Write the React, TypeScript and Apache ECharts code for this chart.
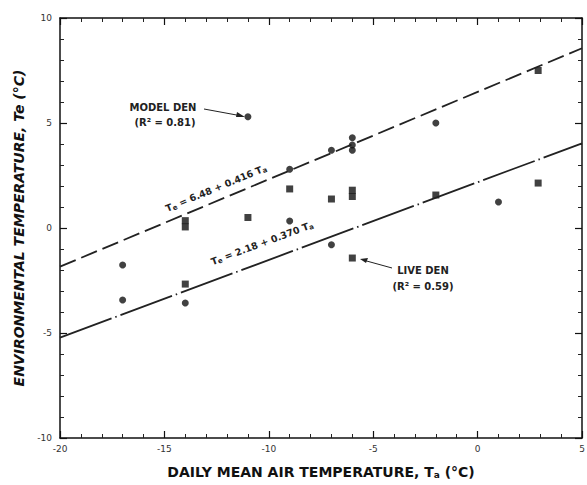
import React, { useEffect, useRef } from "react";
import * as echarts from "echarts";

const xTicks = [-20, -15, -10, -5, 0, 5];
const yTicks = [-10, -5, 0, 5, 10];

// circles
const circlePoints: number[][] = [
  [-11, 5.3], [-17, -1.76], [-17, -3.43], [-14, -3.57], [-9, 2.8], [-9, 0.33],
  [-7, 3.7], [-7, -0.8], [-6, 4.3], [-6, 3.95], [-6, 3.7], [-2, 5.0], [1, 1.24],
];
// squares
const squarePoints: number[][] = [
  [-14, 0.35], [-14, 0.05], [-11, 0.5], [-9, 1.86], [-7, 1.38], [-6, 1.8], [-6, 1.5],
  [-6, -1.43], [-14, -2.67], [-2, 1.57], [2.9, 2.14], [2.9, 7.5],
];
const modelLine: number[][] = [[-20, -1.84], [5, 8.56]];
const liveLine: number[][] = [[-20, -5.22], [5, 4.03]];

const FONT = "DejaVu Sans";

export default function App() {
  const ref = useRef<HTMLDivElement>(null);
  useEffect(() => {
    if (!ref.current) return;
    const chart = echarts.init(ref.current, undefined, { renderer: "svg" });
    const axisCommon = {
      type: "value" as const,
      axisLine: { show: true, onZero: false, lineStyle: { color: "#111", width: 1.5 } },
      axisTick: { show: true, inside: true, length: 7, lineStyle: { color: "#111", width: 1.2 } },
      minorTick: { show: true, splitNumber: 5, length: 4, lineStyle: { color: "#222", width: 1 } },
      splitLine: { show: false },
    };
    const subRich = { s: { fontSize: 7, fontFamily: FONT, fontWeight: "bold", color: "#222", padding: [5, 0, 0, 0] } };
    chart.setOption({
      animation: false,
      backgroundColor: "#fff",
      grid: { left: 60, right: 5, top: 18, bottom: 47, outerBoundsMode: "none", containLabel: false },
      xAxis: [
        {
          ...axisCommon,
          min: -20, max: 5, interval: 5,
          axisLabel: { color: "#333", fontSize: 9, fontFamily: FONT, margin: 6, formatter: (v: number) => (xTicks.includes(v) ? String(v) : "") },
          name: "DAILY MEAN AIR TEMPERATURE, T{sub|a} (°C)",
          nameLocation: "middle",
          nameGap: 26,
          nameTextStyle: {
            color: "#111", fontSize: 14, fontWeight: "bold", fontFamily: FONT,
            rich: { sub: { fontSize: 9, fontWeight: "bold", fontFamily: FONT, color: "#111", padding: [6, 0, 0, 0] } },
          },
        },
        { ...axisCommon, position: "top", min: -20, max: 5, interval: 5, axisLabel: { show: false } },
      ],
      yAxis: [
        {
          ...axisCommon,
          min: -10, max: 10, interval: 5,
          axisLabel: { color: "#333", fontSize: 9, fontFamily: FONT, margin: 8, formatter: (v: number) => (yTicks.includes(v) ? String(v) : "") },
          name: "ENVIRONMENTAL TEMPERATURE, Te (°C)",
          nameLocation: "middle",
          nameRotate: 90,
          nameGap: 32,
          nameTextStyle: { color: "#111", fontSize: 14, fontWeight: "bold", fontStyle: "italic", fontFamily: FONT },
        },
        { ...axisCommon, position: "right", min: -10, max: 10, interval: 5, axisLabel: { show: false } },
      ],
      series: [
        {
          type: "line", data: modelLine, symbol: "none", silent: true,
          lineStyle: { color: "#222", width: 1.8, type: [17, 6] },
        },
        {
          type: "line", data: liveLine, symbol: "none", silent: true,
          lineStyle: { color: "#222", width: 1.8, type: [55, 4, 1.5, 4] },
        },
        { type: "scatter", data: circlePoints, symbol: "circle", symbolSize: 7, itemStyle: { color: "#111" } },
        { type: "scatter", data: squarePoints, symbol: "rect", symbolSize: 7, itemStyle: { color: "#111" } },
      ],
      graphic: [
        { type: "text", x: 163, y: 107, style: { text: "MODEL DEN", font: `bold 10px ${FONT}`, fill: "#222", align: "center", verticalAlign: "middle" } },
        { type: "text", x: 165, y: 122, style: { text: "(R² = 0.81)", font: `bold 10px ${FONT}`, fill: "#222", align: "center", verticalAlign: "middle" } },
        { type: "line", shape: { x1: 204, y1: 109, x2: 242, y2: 116 }, style: { stroke: "#222", lineWidth: 1 } },
        { type: "polygon", shape: { points: [[245, 117], [237, 112], [236, 117]] }, style: { fill: "#222" } },
        { type: "text", x: 423, y: 270, style: { text: "LIVE DEN", font: `bold 10px ${FONT}`, fill: "#222", align: "center", verticalAlign: "middle" } },
        { type: "text", x: 423, y: 286, style: { text: "(R² = 0.59)", font: `bold 10px ${FONT}`, fill: "#222", align: "center", verticalAlign: "middle" } },
        { type: "line", shape: { x1: 392, y1: 268, x2: 363, y2: 260 }, style: { stroke: "#222", lineWidth: 1 } },
        { type: "polygon", shape: { points: [[360, 259], [368, 258], [366, 263]] }, style: { fill: "#222" } },
        {
          type: "text", x: 216, y: 188, rotation: 0.393,
          style: { text: "T{s|e} = 6.48 + 0.416 T{s|a}", font: `bold 9.5px ${FONT}`, fill: "#222", align: "center", verticalAlign: "middle", rich: subRich },
        },
        {
          type: "text", x: 262, y: 243, rotation: 0.355,
          style: { text: "T{s|e} = 2.18 + 0.370 T{s|a}", font: `bold 9.5px ${FONT}`, fill: "#222", align: "center", verticalAlign: "middle", rich: subRich },
        },
      ],
    });
    return () => chart.dispose();
  }, []);
  return <div ref={ref} style={{ width: 587, height: 485, position: "absolute", left: 0, top: 0 }} />;
}
